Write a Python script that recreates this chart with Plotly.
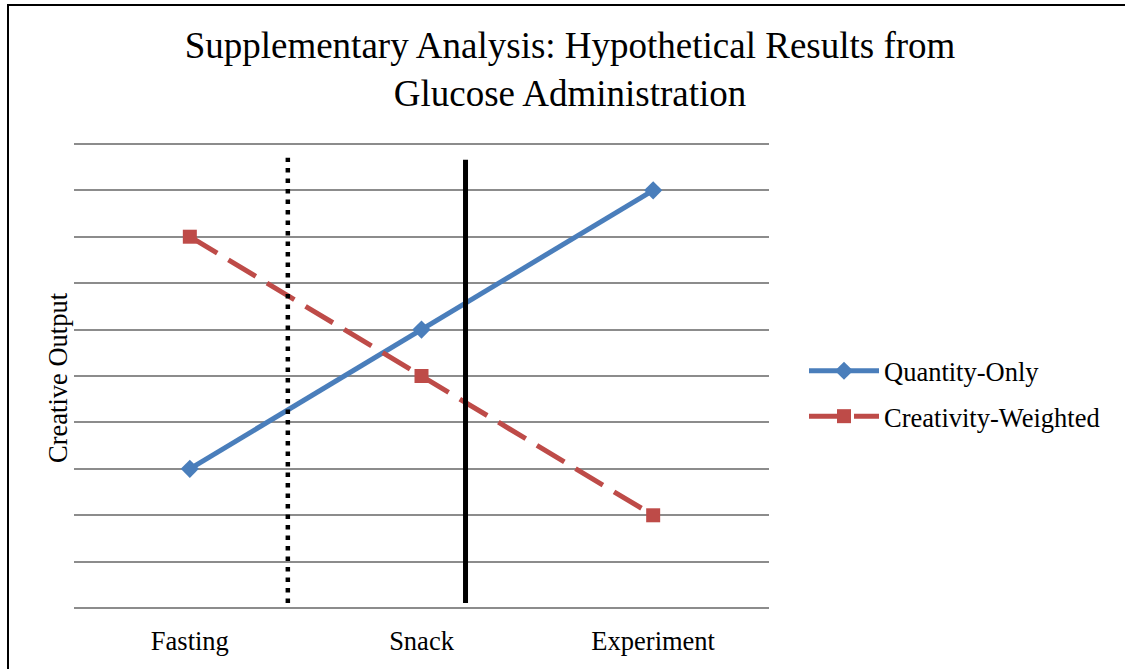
import plotly.graph_objects as go

categories = ["Fasting", "Snack", "Experiment"]
quantity_only = [3, 6, 9]
creativity_weighted = [8, 5, 2]
series_names = ["Quantity-Only", "Creativity-Weighted"]
title_text = "Supplementary Analysis: Hypothetical Results from<br>Glucose Administration"
y_title = "Creative Output"

# Phase dividers (category-axis positions) and their vertical extent
dotted_divider_x = 0.423
solid_divider_x = 1.19
dotted_divider_y = [0.11, 9.7]
solid_divider_y = [0.11, 9.66]

W, H = 1125, 669
YR = [-0.04, 10.04]
L, R, T, B = 74, 356, 142, 59
pw, ph = W - L - R, H - T - B

def px_to_paper_x(px):
    return (px - L) / pw

def px_to_paper_y(py):
    return (H - B - py) / ph

FONT = "Liberation Serif, Times New Roman, serif"
BLUE = "#4A7EBB"
RED = "#BE4B48"
FS = 26.5

fig = go.Figure()
fig.add_trace(go.Scatter(
    x=categories, y=quantity_only, name=series_names[0], mode="lines+markers",
    legendgroup="q",
    line=dict(color=BLUE, width=5),
    marker=dict(symbol="diamond", size=14, color=BLUE),
))
fig.add_trace(go.Scatter(
    x=categories, y=creativity_weighted, name=series_names[1], mode="lines+markers",
    legendgroup="c",
    line=dict(color=RED, width=5, dash="32px,13px"),
    marker=dict(symbol="square", size=14, color=RED),
))

fig.add_shape(type="line", xref="x", yref="y",
              x0=dotted_divider_x, x1=dotted_divider_x,
              y0=dotted_divider_y[0], y1=dotted_divider_y[1],
              line=dict(color="black", width=4.5, dash="4.5px,6px"))
fig.add_shape(type="line", xref="x", yref="y",
              x0=solid_divider_x, x1=solid_divider_x,
              y0=solid_divider_y[0], y1=solid_divider_y[1],
              line=dict(color="black", width=5))

# outer chart border
fig.add_shape(type="rect", xref="paper", yref="paper",
              x0=px_to_paper_x(8), x1=px_to_paper_x(1140),
              y0=px_to_paper_y(690), y1=px_to_paper_y(5),
              line=dict(color="black", width=2), layer="above")

fig.add_annotation(text=y_title, xref="paper", yref="paper",
                   x=px_to_paper_x(58), y=px_to_paper_y(378), xanchor="center", yanchor="middle",
                   textangle=-90, showarrow=False, font=dict(size=FS, family=FONT, color="black"))

fig.update_layout(
    width=W, height=H,
    margin=dict(l=L, r=R, t=T, b=B),
    plot_bgcolor="white", paper_bgcolor="white",
    font=dict(family=FONT, color="black", size=FS),
    title=dict(text=title_text, x=570 / W, xref="container", xanchor="center",
               y=1 - 58 / H, yref="container", yanchor="top",
               font=dict(family=FONT, size=37, color="black")),
    xaxis=dict(type="category", range=[-0.5, 2.5], showgrid=False, showline=False,
               zeroline=False, ticks="", ticklabelstandoff=12,
               tickfont=dict(size=FS, family=FONT)),
    yaxis=dict(range=YR, dtick=1, tick0=0, showgrid=True, gridcolor="#8C8C8C", gridwidth=1.5,
               showticklabels=False, zeroline=False, showline=False, ticks=""),
    legend=dict(x=px_to_paper_x(804), xanchor="left", y=px_to_paper_y(393.5), yanchor="middle",
                font=dict(size=FS, family=FONT), traceorder="grouped", tracegroupgap=8,
                itemwidth=70, bgcolor="rgba(0,0,0,0)"),
    showlegend=True,
)

fig.write_html("out.html", config={"displayModeBar": False},
               post_script="document.body.style.margin='0';")
